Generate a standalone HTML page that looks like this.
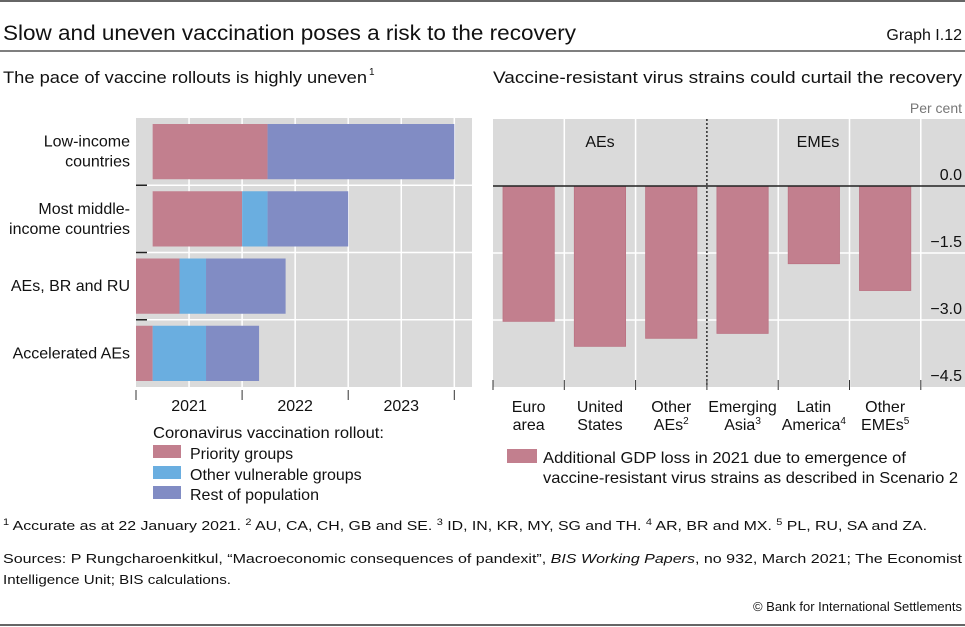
<!DOCTYPE html>
<html><head><meta charset="utf-8"><style>
html,body{margin:0;padding:0;background:#fff;}
svg{display:block;font-family:"Liberation Sans",sans-serif;}
</style></head><body>
<svg id="s" width="965" height="627" viewBox="0 0 965 627" xmlns="http://www.w3.org/2000/svg">
<line x1="0" y1="1" x2="965" y2="1" stroke="#333" stroke-width="1.5"/>
<text x="3" y="40" font-size="21" textLength="573" lengthAdjust="spacingAndGlyphs" fill="#111">Slow and uneven vaccination poses a risk to the recovery</text>
<text x="962" y="40" font-size="16" text-anchor="end" fill="#111">Graph I.12</text>
<line x1="0" y1="51" x2="965" y2="51" stroke="#555" stroke-width="1.5"/>
<text x="3" y="83" font-size="17" textLength="364" lengthAdjust="spacingAndGlyphs" fill="#111">The pace of vaccine rollouts is highly uneven</text>
<text x="369" y="75" font-size="10" fill="#111">1</text>
<text x="493" y="83" font-size="17" textLength="469" lengthAdjust="spacingAndGlyphs" fill="#111">Vaccine-resistant virus strains could curtail the recovery</text>
<text x="962" y="113" font-size="14" text-anchor="end" fill="#777">Per cent</text>
<g id="left"></g>
<g id="right"></g>

<text x="153" y="438" font-size="16" textLength="231" lengthAdjust="spacingAndGlyphs" fill="#111">Coronavirus vaccination rollout:</text>
<g><rect x="153" y="445" width="28" height="13" fill="#c27f8e"/><text x="190" y="459" font-size="16" fill="#111">Priority groups</text></g>
<g><rect x="153" y="466" width="28" height="13" fill="#6aaee0"/><text x="190" y="480" font-size="16" fill="#111">Other vulnerable groups</text></g>
<g><rect x="153" y="486" width="28" height="13" fill="#818cc4"/><text x="190" y="500" font-size="16" fill="#111">Rest of population</text></g>
<g><rect x="507" y="449" width="30" height="14" fill="#c27f8e"/>
<text x="543" y="463" font-size="16" textLength="363" lengthAdjust="spacingAndGlyphs" fill="#111">Additional GDP loss in 2021 due to emergence of</text>
<text x="543" y="483" font-size="16" textLength="415" lengthAdjust="spacingAndGlyphs" fill="#111">vaccine-resistant virus strains as described in Scenario 2</text></g>

<text x="3" y="530" font-size="13" textLength="924" lengthAdjust="spacingAndGlyphs" fill="#111"><tspan font-size="9" dy="-5">1</tspan><tspan dy="5">  Accurate as at 22 January 2021.    </tspan><tspan font-size="9" dy="-5">2</tspan><tspan dy="5">  AU, CA, CH, GB and SE.    </tspan><tspan font-size="9" dy="-5">3</tspan><tspan dy="5">  ID, IN, KR, MY, SG and TH.    </tspan><tspan font-size="9" dy="-5">4</tspan><tspan dy="5">  AR, BR and MX.    </tspan><tspan font-size="9" dy="-5">5</tspan><tspan dy="5">  PL, RU, SA and ZA.</tspan></text>
<text x="3" y="563" font-size="13" textLength="959" lengthAdjust="spacingAndGlyphs" fill="#111">Sources: P Rungcharoenkitkul, “Macroeconomic consequences of pandexit”, <tspan font-style="italic">BIS Working Papers</tspan>, no 932, March 2021; The Economist</text>
<text x="3" y="584" font-size="13" textLength="228" lengthAdjust="spacingAndGlyphs" fill="#111">Intelligence Unit; BIS calculations.</text>
<text x="962" y="611" font-size="13" text-anchor="end" fill="#111">© Bank for International Settlements</text>
<line x1="0" y1="625" x2="965" y2="625" stroke="#333" stroke-width="1.5"/>
</svg>
<script>
const NS="http://www.w3.org/2000/svg";
// Left chart data (years after start of 2021)
const rolloutCategories=[["Low-income","countries"],["Most middle-","income countries"],["AEs, BR and RU"],["Accelerated AEs"]];
const rolloutStart=[0.157,0.157,0,0];
const priorityEnd=[1.24,1.0,0.41,0.157];
const vulnerableEnd=[1.24,1.24,0.66,0.66];
const restEnd=[3.0,2.0,1.41,1.16];
const yearLabels=["2021","2022","2023"];
// Right chart data
const regionLines=[["Euro","area"],["United","States"],["Other","AEs"],["Emerging","Asia"],["Latin","America"],["Other","EMEs"]];
const regionSup=["","","2","3","4","5"];
const gdpLoss=[-3.03,-3.59,-3.41,-3.30,-1.74,-2.34];
const yTicks=[0,-1.5,-3.0,-4.5];
const yTickLabels=["0.0","−1.5","−3.0","−4.5"];

function mk(parent,tag,attrs,txt){const e=document.createElementNS(NS,tag);for(const k in attrs)e.setAttribute(k,attrs[k]);if(txt!==undefined)e.textContent=txt;parent.appendChild(e);return e;}

// LEFT
const L=document.getElementById('left');
const lx0=136,lx1=472,ly0=118,ly1=387,pxYear=106.1;
const X=v=>lx0+v*pxYear;
const band=(ly1-ly0)/rolloutCategories.length;
mk(L,'rect',{x:lx0,y:ly0,width:lx1-lx0,height:ly1-ly0,fill:'#dadada'});
for(let h=0.5;X(h)<lx1;h+=0.5){mk(L,'line',{x1:X(h),x2:X(h),y1:ly0,y2:ly1,stroke:'#fff','stroke-width':1.5});}
for(let i=1;i<rolloutCategories.length;i++){const y=ly0+i*band;mk(L,'line',{x1:lx0,x2:lx1,y1:y,y2:y,stroke:'#fff','stroke-width':1.5});mk(L,'line',{x1:lx0,x2:lx0+11,y1:y,y2:y,stroke:'#222','stroke-width':1.5});}
rolloutCategories.forEach((c,i)=>{
  const y=ly0+i*band+6,h=band-12;
  const segs=[[rolloutStart[i],priorityEnd[i],'#c27f8e','priority'],[priorityEnd[i],vulnerableEnd[i],'#6aaee0','vulnerable'],[vulnerableEnd[i],restEnd[i],'#818cc4','rest']];
  segs.forEach(s=>{if(s[1]>s[0]){const r=mk(L,'rect',{x:X(s[0]),y:y,width:X(s[1])-X(s[0]),height:h,fill:s[2]});
    
    }});
  const cy=ly0+(i+0.5)*band;
  const t=mk(L,'text',{x:130,'text-anchor':'end','font-size':16,fill:'#111'});
  
  
  c.forEach((ln,j)=>{mk(t,'tspan',{x:130,y:cy+5+(j-(c.length-1)/2)*20},ln);});
});
for(let yv=0;yv<=3;yv++){mk(L,'line',{x1:X(yv),x2:X(yv),y1:390,y2:400,stroke:'#333','stroke-width':1});}
yearLabels.forEach((lab,i)=>{const t=mk(L,'text',{x:X(i+0.5),y:411,'font-size':16,'text-anchor':'middle',fill:'#111'},lab);
  
  });

// RIGHT
const R=document.getElementById('right');
const rx0=493,rx1=965,ry0=119,ry1=387,yMax=1.5,yMin=-4.5;
const colW=71.3;
const Y=v=>ry0+(yMax-v)/(yMax-yMin)*(ry1-ry0);
mk(R,'rect',{x:rx0,y:ry0,width:rx1-rx0,height:ry1-ry0,fill:'#dadada'});
yTicks.forEach(v=>{if(v<0&&v>yMin)mk(R,'line',{x1:rx0,x2:rx1,y1:Y(v),y2:Y(v),stroke:'#fff','stroke-width':1.5});});
for(let i=1;i<=regionLines.length;i++){const x=rx0+i*colW;if(i!==3)mk(R,'line',{x1:x,x2:x,y1:ry0,y2:ry1,stroke:'#fff','stroke-width':1.5});}
gdpLoss.forEach((v,i)=>{const x=rx0+i*colW+10;const r=mk(R,'rect',{x:x,y:Y(0),width:colW-20,height:Y(v)-Y(0),fill:'#c27f8e',stroke:'#bb7282','stroke-width':0.8});
  
  });
mk(R,'line',{x1:rx0,x2:rx1,y1:Y(0),y2:Y(0),stroke:'#222','stroke-width':1.5});
mk(R,'line',{x1:rx0+3*colW,x2:rx0+3*colW,y1:ry0,y2:ry1,stroke:'#111','stroke-width':1.3,'stroke-dasharray':'2,2'});
for(let i=0;i<=regionLines.length;i++){const x=rx0+i*colW;mk(R,'line',{x1:x,x2:x,y1:ry1-7,y2:ry1+3,stroke:'#333','stroke-width':1});}
yTicks.forEach((v,i)=>{const t=mk(R,'text',{x:962,y:Y(v)-6,'font-size':16,'text-anchor':'end',fill:'#111'},yTickLabels[i]);
  
  });
regionLines.forEach((c,i)=>{const cx=rx0+(i+0.5)*colW;
  const t=mk(R,'text',{'font-size':16,'text-anchor':'middle',fill:'#111'});
  
  
  mk(t,'tspan',{x:cx,y:412},c[0]);
  const t2=mk(R,'text',{x:cx,y:430,'font-size':16,'text-anchor':'middle',fill:'#111'});
  
  
  mk(t2,'tspan',{},c[1]);
  if(regionSup[i])mk(t2,'tspan',{'font-size':10,dy:-6},regionSup[i]);
});
const a=mk(R,'text',{x:600,y:147,'font-size':16,'text-anchor':'middle',fill:'#111'},'AEs');


const e=mk(R,'text',{x:818,y:147,'font-size':16,'text-anchor':'middle',fill:'#111'},'EMEs');


</script>
</body></html>
